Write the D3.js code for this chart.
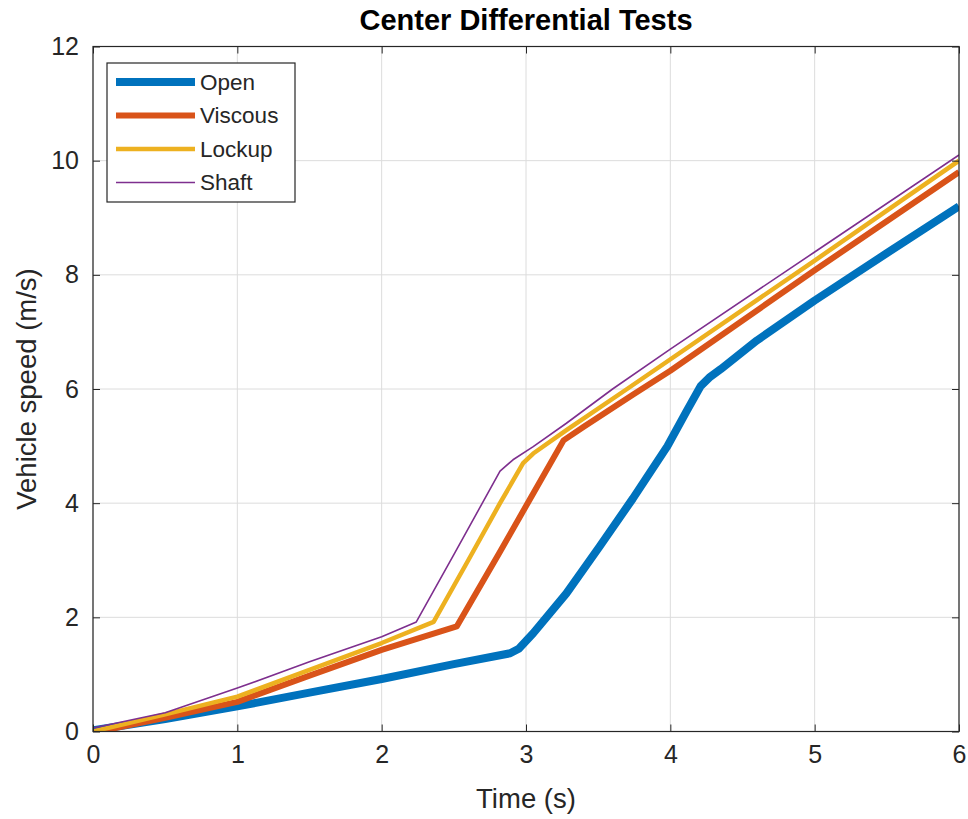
<!DOCTYPE html>
<html>
<head>
<meta charset="utf-8">
<script src="https://cdn.jsdelivr.net/npm/d3@7"></script>
<style>
  html, body { margin: 0; padding: 0; background: #fff; }
  svg { display: block; font-family: "Liberation Sans", Arial, Helvetica, sans-serif; }
</style>
</head>
<body>
<svg id="chart" width="968" height="819"></svg>
<script>
// ---- Data ----
const seriesNames = ["Open", "Viscous", "Lockup", "Shaft"];
const seriesColors = ["#0072BD", "#D95319", "#EDB120", "#7E2F8E"];
const seriesWidths = [8, 6, 4.5, 1.6];

const openTime  = [0, 0.5, 1, 1.5, 2, 2.5, 2.89, 2.95, 3.05, 3.28, 3.51, 3.74, 3.98, 4.11, 4.21, 4.27, 4.35, 4.6, 5.0, 5.5, 6];
const openSpeed = [0.02, 0.22, 0.44, 0.68, 0.92, 1.18, 1.37, 1.45, 1.72, 2.42, 3.24, 4.08, 5.0, 5.6, 6.05, 6.2, 6.35, 6.85, 7.55, 8.38, 9.2];

const viscousTime  = [0, 0.5, 1, 1.5, 2, 2.52, 2.82, 3.05, 3.26, 3.4, 3.74, 4, 5, 6];
const viscousSpeed = [-0.02, 0.24, 0.52, 0.98, 1.43, 1.84, 3.15, 4.17, 5.1, 5.34, 5.9, 6.32, 8.08, 9.8];

const lockupTime  = [0, 0.5, 1, 1.5, 2, 2.36, 2.6, 2.82, 2.98, 3.05, 3.28, 3.7, 5, 6];
const lockupSpeed = [0.0, 0.3, 0.61, 1.08, 1.55, 1.92, 3.0, 4.0, 4.7, 4.87, 5.28, 6.0, 8.25, 10.0];

const shaftTime  = [0, 0.5, 1, 1.5, 2, 2.24, 2.5, 2.82, 2.91, 3.05, 3.28, 3.6, 4, 5, 6];
const shaftSpeed = [0.06, 0.33, 0.76, 1.22, 1.66, 1.92, 3.1, 4.56, 4.76, 4.99, 5.4, 6.0, 6.7, 8.4, 10.1];

const xTicks = [0, 1, 2, 3, 4, 5, 6];
const yTicks = [0, 2, 4, 6, 8, 10, 12];

const titleText = "Center Differential Tests";
const xLabelText = "Time (s)";
const yLabelText = "Vehicle speed (m/s)";

// ---- Layout ----
const svg = d3.select("#chart");
const L = 93, R = 959, T = 46.5, B = 731.5;
const x = d3.scaleLinear().domain([0, 6]).range([L, R]);
const y = d3.scaleLinear().domain([0, 12]).range([B, T]);
const axisColor = "#262626";
const tickFont = 25;
const tickLen = 7;

// grid
const grid = svg.append("g");
grid.selectAll("line.gx").data(xTicks).join("line")
  .attr("x1", d => x(d)).attr("x2", d => x(d)).attr("y1", T).attr("y2", B)
  .attr("stroke", "#dcdcdc").attr("stroke-width", 1);
grid.selectAll("line.gy").data(yTicks).join("line")
  .attr("x1", L).attr("x2", R).attr("y1", d => y(d)).attr("y2", d => y(d))
  .attr("stroke", "#dcdcdc").attr("stroke-width", 1);

// lines
svg.append("clipPath").attr("id", "clip").append("rect")
  .attr("x", L).attr("y", T).attr("width", R - L).attr("height", B - T);

const seriesData = [
  d3.zip(openTime, openSpeed),
  d3.zip(viscousTime, viscousSpeed),
  d3.zip(lockupTime, lockupSpeed),
  d3.zip(shaftTime, shaftSpeed)
];
const lineGen = d3.line().x(d => x(d[0])).y(d => y(d[1]));
const plotG = svg.append("g").attr("clip-path", "url(#clip)");
seriesData.forEach((s, i) => {
  plotG.append("path").datum(s)
    .attr("d", lineGen)
    .attr("fill", "none")
    .attr("stroke", seriesColors[i])
    .attr("stroke-width", seriesWidths[i])
    .attr("stroke-linejoin", "round");
});

// axes
function styleAxis(g, showLabels) {
  g.select(".domain").remove();
  g.selectAll(".tick line").attr("stroke", axisColor);
  g.selectAll(".tick text")
    .attr("fill", axisColor)
    .attr("font-size", tickFont)
    .attr("font-family", "Liberation Sans, Arial, Helvetica, sans-serif");
  if (!showLabels) g.selectAll(".tick text").remove();
}
const xAxisB = d3.axisBottom(x).tickValues(xTicks).tickFormat(d3.format("d")).tickSizeInner(-tickLen).tickSizeOuter(0).tickPadding(14);
const xAxisT = d3.axisTop(x).tickValues(xTicks).tickSizeInner(-tickLen).tickSizeOuter(0);
const yAxisL = d3.axisLeft(y).tickValues(yTicks).tickFormat(d3.format("d")).tickSizeInner(-tickLen).tickSizeOuter(0).tickPadding(14);
const yAxisR = d3.axisRight(y).tickValues(yTicks).tickSizeInner(-tickLen).tickSizeOuter(0);

svg.append("g").attr("transform", `translate(0,${B})`).call(xAxisB).call(g => styleAxis(g, true));
svg.append("g").attr("transform", `translate(0,${T})`).call(xAxisT).call(g => styleAxis(g, false));
svg.append("g").attr("transform", `translate(${L},0)`).call(yAxisL).call(g => styleAxis(g, true));
svg.append("g").attr("transform", `translate(${R},0)`).call(yAxisR).call(g => styleAxis(g, false));

// box
svg.append("rect").attr("x", L).attr("y", T).attr("width", R - L).attr("height", B - T)
  .attr("fill", "none").attr("stroke", axisColor).attr("stroke-width", 1.2);

// title and labels
svg.append("text").attr("x", (L + R) / 2).attr("y", 30)
  .attr("text-anchor", "middle").attr("font-size", 29).attr("font-weight", "bold")
  .attr("fill", "#000").text(titleText);
svg.append("text").attr("x", (L + R) / 2).attr("y", 808)
  .attr("text-anchor", "middle").attr("font-size", 27.5).attr("fill", axisColor).text(xLabelText);
svg.append("text").attr("transform", `translate(36,${(T + B) / 2}) rotate(-90)`)
  .attr("text-anchor", "middle").attr("font-size", 27.5).attr("fill", axisColor).text(yLabelText);

// legend
const lg = svg.append("g");
lg.append("rect").attr("x", 107).attr("y", 63).attr("width", 188).attr("height", 139)
  .attr("fill", "#fff").attr("stroke", axisColor).attr("stroke-width", 1.2);
const rowY = [82, 115.5, 149, 182.5];
seriesNames.forEach((n, i) => {
  lg.append("line").attr("x1", 116).attr("x2", 195).attr("y1", rowY[i]).attr("y2", rowY[i])
    .attr("stroke", seriesColors[i]).attr("stroke-width", seriesWidths[i]);
  lg.append("text").attr("x", 200).attr("y", rowY[i]).attr("dy", "0.35em")
    .attr("font-size", 22.5).attr("fill", axisColor).text(n);
});
</script>
</body>
</html>
